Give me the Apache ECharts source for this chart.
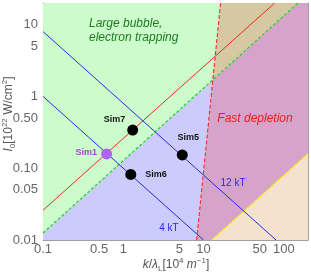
<!DOCTYPE html>
<html><head><meta charset="utf-8">
<script src="https://cdn.jsdelivr.net/npm/echarts@6/dist/echarts.min.js"></script>
<style>html,body{margin:0;padding:0;background:#fff}#c{width:311px;height:276px}</style>
</head><body><div id="c"></div>
<script>
// ---- axis ranges & ticks ----
const xRange = [0.1, 200];
const yRange = [0.01, 20];
const xTickValues = [0.1, 0.5, 1, 5, 10, 50, 100];
const xTickLabels = ['0.1', '0.5', '1', '5', '10', '50', '100'];
const yTickValues = [0.01, 0.05, 0.1, 0.5, 1, 5, 10];
const yTickLabels = ['0.01', '0.05', '0.10', '0.50', '1', '5', '10'];
const xMinorTicks = [0.2,0.3,0.4,0.6,0.7,0.8,0.9,2,3,4,6,7,8,9,20,30,40,60,70,80,90,200];
const yMinorTicks = [0.02,0.03,0.04,0.06,0.07,0.08,0.09,0.2,0.3,0.4,0.6,0.7,0.8,0.9,2,3,4,6,7,8,9,20];

// ---- boundary lines (k, I) endpoints ----
const greenBoundary = [[0.1, 0.0125], [150, 20]];
const depletionBoundary = [[8.2, 0.01], [16.3, 20]];
const yellowBoundary = [[12.6, 0.01], [200, 0.16]];
const redLine = [[0.1, 0.026], [77, 20]];
const kT4Line = [[0.1, 1], [10, 0.01]];
const kT12Line = [[0.1, 8], [80, 0.01]];

// ---- simulation points ----
const simNames = ['Sim1', 'Sim6', 'Sim7', 'Sim5'];
const simK = [0.62, 1.24, 1.31, 5.43];
const simI = [0.158, 0.082, 0.34, 0.153];

const L10 = Math.log10;
function intersect(a, b) {
  const [ax0, ay0, ax1, ay1] = [L10(a[0][0]), L10(a[0][1]), L10(a[1][0]), L10(a[1][1])];
  const [bx0, by0, bx1, by1] = [L10(b[0][0]), L10(b[0][1]), L10(b[1][0]), L10(b[1][1])];
  const d = (ax1-ax0)*(by1-by0) - (ay1-ay0)*(bx1-bx0);
  const t = ((bx0-ax0)*(by1-by0) - (by0-ay0)*(bx1-bx0)) / d;
  return [Math.pow(10, ax0 + t*(ax1-ax0)), Math.pow(10, ay0 + t*(ay1-ay0))];
}
const GD = intersect(greenBoundary, depletionBoundary);
const G0 = greenBoundary[0], G1 = greenBoundary[1];
const D0 = depletionBoundary[0], D1 = depletionBoundary[1];
const Y0 = yellowBoundary[0], Y1 = yellowBoundary[1];
const regions = [
  { pts: [G0, GD, D1, [xRange[0], yRange[1]]], color: '#ccfccc' },
  { pts: [GD, G1, D1], color: '#d6c8a2' },
  { pts: [[xRange[0], yRange[0]], D0, GD, G0], color: '#ccccfc' },
  { pts: [D0, Y0, Y1, [xRange[1], yRange[1]], G1, GD], color: '#d6a3cb' },
  { pts: [Y0, [xRange[1], yRange[0]], Y1], color: '#f4e2cf' }
];

const frameColor = '#a0a0a0';
const labelFont = 'Liberation Sans';
function lookup(vals, labels, v) {
  for (let i = 0; i < vals.length; i++) if (Math.abs(L10(vals[i]) - v) < 1e-6) return labels[i];
  return '';
}
function valueAxis(range, position, opts) {
  return Object.assign({
    type: 'value', min: L10(range[0]), max: L10(range[1]), position: position,
    splitLine: { show: false },
    axisLine: { show: false, onZero: false },
    axisLabel: { show: false },
    axisTick: { show: false }
  }, opts);
}
function majorLine() { return { show: true, onZero: false, lineStyle: { color: frameColor, width: 1 } }; }
function ticks(vals, len) { return { show: true, inside: true, length: len, customValues: vals.map(L10), lineStyle: { color: frameColor, width: 1 } }; }

const xAxes = [
  { type: 'log', logBase: 10, min: xRange[0], max: xRange[1], show: false },
  valueAxis(xRange, 'bottom', { axisLine: majorLine(), axisTick: ticks(xTickValues, 4),
    axisLabel: { show: true, customValues: xTickValues.map(L10), formatter: v => lookup(xTickValues, xTickLabels, v),
      color: '#666', fontSize: 13, fontFamily: labelFont, margin: 3 } }),
  valueAxis(xRange, 'bottom', { axisTick: ticks(xMinorTicks, 2) }),
  valueAxis(xRange, 'top', { axisLine: majorLine(), axisTick: ticks(xTickValues, 4) }),
  valueAxis(xRange, 'top', { axisTick: ticks(xMinorTicks, 2) })
];
const yAxes = [
  { type: 'log', logBase: 10, min: yRange[0], max: yRange[1], show: false },
  valueAxis(yRange, 'left', { axisLine: majorLine(), axisTick: ticks(yTickValues, 4),
    axisLabel: { show: true, customValues: yTickValues.map(L10), formatter: v => lookup(yTickValues, yTickLabels, v),
      color: '#666', fontSize: 13, fontFamily: labelFont, margin: 5 } }),
  valueAxis(yRange, 'left', { axisTick: ticks(yMinorTicks, 2) }),
  valueAxis(yRange, 'right', { axisLine: majorLine(), axisTick: ticks(yTickValues, 4) }),
  valueAxis(yRange, 'right', { axisTick: ticks(yMinorTicks, 2) })
];

function lineSeries(data, color, type, width) {
  return { type: 'line', data: data, showSymbol: false, silent: true, z: 3,
    lineStyle: { color: color, width: width || 1, type: type || 'solid' } };
}

const simColors = ['#b062f0', '#000', '#000', '#000'];
const simLabelColors = ['#a048c8', '#111', '#111', '#111'];
const simLabelPos = [
  { position: 'left', distance: 4, offset: [0, -1] },
  { position: 'right', distance: 9, offset: [0, 0] },
  { position: 'left', distance: 2, offset: [0, -11] },
  { position: 'top', distance: 7, offset: [6, 0] }
];

const richTitle = {
  i: { fontStyle: 'italic', fontSize: 12, fontFamily: labelFont, lineHeight: 16, fill: '#555' },
  sub: { fontSize: 8, fontFamily: labelFont, verticalAlign: 'bottom', lineHeight: 16, fill: '#555' },
  sup: { fontSize: 8, fontFamily: labelFont, verticalAlign: 'top', lineHeight: 16, fill: '#555' }
};
function annot(x, y, text, color, size, italic, align) {
  return { type: 'text', x: x, y: y, z: 100, silent: true,
    style: { text: text, fill: color, fontSize: size, fontStyle: italic ? 'italic' : 'normal', fontFamily: labelFont,
      align: align || 'left', verticalAlign: 'middle' } };
}

const option = {
  animation: false,
  grid: { left: 43, right: 3, top: 3, bottom: 36 },
  xAxis: xAxes,
  yAxis: yAxes,
  series: [
    { type: 'custom', silent: true, z: 1,
      data: regions.map(() => [1, 1]),
      encode: { x: 0, y: 1 },
      renderItem: (params, api) => {
        const r = regions[params.dataIndex];
        return { type: 'polygon', shape: { points: r.pts.map(p => api.coord(p)) }, style: { fill: r.color } };
      } },
    lineSeries(greenBoundary, '#1fd61f', [3, 2], 1.2),
    lineSeries(depletionBoundary, '#f02a2a', [4, 2], 1.1),
    lineSeries(yellowBoundary, '#f4e40c', [3, 1], 1.3),
    lineSeries(redLine, '#ec2a22'),
    lineSeries(kT4Line, '#2a2ae0'),
    lineSeries(kT12Line, '#2a2ae0'),
    { type: 'scatter', z: 5, silent: true, symbolSize: 11,
      data: simNames.map((n, i) => ({
        value: [simK[i], simI[i]], name: n,
        itemStyle: { color: simColors[i], opacity: 1 },
        label: Object.assign({ show: true, formatter: n, color: simLabelColors[i], fontSize: 9, fontWeight: 'bold', fontFamily: labelFont }, simLabelPos[i])
      })) }
  ],
  graphic: [
    annot(89, 24, 'Large bubble,', '#1f7a1f', 12, true),
    annot(89, 38, 'electron trapping', '#1f7a1f', 12, true),
    annot(255, 119, 'Fast depletion', '#ee1c1c', 12, true, 'center'),
    annot(233, 183, '12 kT', '#2a2ae0', 10, false, 'center'),
    annot(169, 228, '4 kT', '#2a2ae0', 10, false, 'center'),
    { type: 'text', x: 176, y: 265, z: 100, silent: true, style: {
      text: '{i|k}/{i|λ}{sub|L}[10{sup|4} {i|m}{sup|−1}]', fill: '#555', fontSize: 12, fontFamily: labelFont, align: 'center', verticalAlign: 'middle',
      rich: richTitle } },
    { type: 'text', x: 9, y: 114, z: 100, silent: true, rotation: Math.PI / 2, style: {
      text: '{i|I}{sub|0}[10{sup|22} W/cm{sup|2}]', fill: '#555', fontSize: 12, fontFamily: labelFont, align: 'center', verticalAlign: 'middle',
      rich: richTitle } }
  ]
};
const chart = echarts.init(document.getElementById('c'), null, { renderer: 'canvas' });
chart.setOption(option);
</script>
</body></html>
